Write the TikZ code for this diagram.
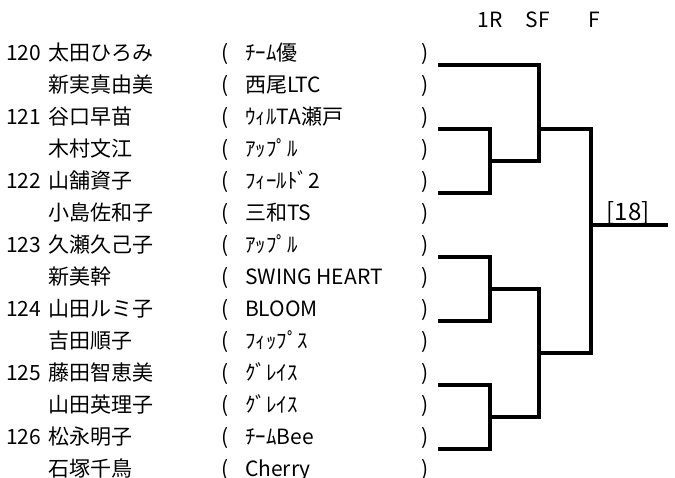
\documentclass[tikz,border=0pt]{standalone}
\usepackage{fontspec}
\setmainfont{Noto Sans CJK JP}
\usetikzlibrary{positioning}

\begin{document}
\begin{tikzpicture}[
    x=1pt, y=-1pt,
    entry/.style={anchor=base west, inner sep=0pt, font=\fontsize{21}{21}\selectfont},
    round/.style={anchor=base, inner sep=0pt, font=\fontsize{21}{21}\selectfont},
    line/.style={line width=3.3pt}
]
\useasboundingbox (0,0) rectangle (675,477);

% round headers
\node[round] (hr1) at (490,27) {1R};
\node[round] (hsf) at (538,27) {SF};
\node[round] (hf) at (594,27) {F};

% players
\node[entry] (n120) at (6,60) {120};
\node[entry] (a1) at (48,60) {太田ひろみ};
\node[entry] (o1) at (221,60) {(};
\node[entry] (t1) at (245,60) {ﾁｰﾑ優};
\node[entry] (c1) at (421,60) {)};
\node[entry] (a2) at (48,92) {新実真由美};
\node[entry] (o2) at (221,92) {(};
\node[entry] (t2) at (245,92) {西尾LTC};
\node[entry] (c2) at (421,92) {)};
\node[entry] (n121) at (6,124) {121};
\node[entry] (a3) at (48,124) {谷口早苗};
\node[entry] (o3) at (221,124) {(};
\node[entry] (t3) at (245,124) {ｳｨﾙTA瀬戸};
\node[entry] (c3) at (421,124) {)};
\node[entry] (a4) at (48,156) {木村文江};
\node[entry] (o4) at (221,156) {(};
\node[entry] (t4) at (245,156) {ｱｯﾌﾟﾙ};
\node[entry] (c4) at (421,156) {)};
\node[entry] (n122) at (6,188) {122};
\node[entry] (a5) at (48,188) {山舗資子};
\node[entry] (o5) at (221,188) {(};
\node[entry] (t5) at (245,188) {ﾌｨｰﾙﾄﾞ2};
\node[entry] (c5) at (421,188) {)};
\node[entry] (a6) at (48,220) {小島佐和子};
\node[entry] (o6) at (221,220) {(};
\node[entry] (t6) at (245,220) {三和TS};
\node[entry] (c6) at (421,220) {)};
\node[entry] (n123) at (6,252) {123};
\node[entry] (a7) at (48,252) {久瀬久己子};
\node[entry] (o7) at (221,252) {(};
\node[entry] (t7) at (245,252) {ｱｯﾌﾟﾙ};
\node[entry] (c7) at (421,252) {)};
\node[entry] (a8) at (48,284) {新美幹};
\node[entry] (o8) at (221,284) {(};
\node[entry] (t8) at (245,284) {SWING HEART};
\node[entry] (c8) at (421,284) {)};
\node[entry] (n124) at (6,316) {124};
\node[entry] (a9) at (48,316) {山田ルミ子};
\node[entry] (o9) at (221,316) {(};
\node[entry] (t9) at (245,316) {BLOOM};
\node[entry] (c9) at (421,316) {)};
\node[entry] (a10) at (48,348) {吉田順子};
\node[entry] (o10) at (221,348) {(};
\node[entry] (t10) at (245,348) {ﾌｨｯﾌﾟｽ};
\node[entry] (c10) at (421,348) {)};
\node[entry] (n125) at (6,380) {125};
\node[entry] (a11) at (48,380) {藤田智恵美};
\node[entry] (o11) at (221,380) {(};
\node[entry] (t11) at (245,380) {ｸﾞﾚｲｽ};
\node[entry] (c11) at (421,380) {)};
\node[entry] (a12) at (48,412) {山田英理子};
\node[entry] (o12) at (221,412) {(};
\node[entry] (t12) at (245,412) {ｸﾞﾚｲｽ};
\node[entry] (c12) at (421,412) {)};
\node[entry] (n126) at (6,444) {126};
\node[entry] (a13) at (48,444) {松永明子};
\node[entry] (o13) at (221,444) {(};
\node[entry] (t13) at (245,444) {ﾁｰﾑBee};
\node[entry] (c13) at (421,444) {)};
\node[entry] (a14) at (48,476) {石塚千鳥};
\node[entry] (o14) at (221,476) {(};
\node[entry] (t14) at (245,476) {Cherry};
\node[entry] (c14) at (421,476) {)};

% bracket points
\coordinate (p120) at (438,65);
\coordinate (p121) at (438,129);
\coordinate (p122) at (438,193);
\coordinate (p123) at (438,257);
\coordinate (p124) at (438,321);
\coordinate (p125) at (438,385);
\coordinate (p126) at (438,449);
\coordinate (q1) at (490,161);
\coordinate (q2) at (490,289);
\coordinate (q3) at (490,417);
\coordinate (s1) at (539,129);
\coordinate (s2) at (539,353);
\coordinate (fin) at (591,225);
\coordinate (win) at (668,225);

\draw[line] (p121) -| (q1) |- (p122);
\draw[line] (p123) -| (q2) |- (p124);
\draw[line] (p125) -| (q3) |- (p126);
\draw[line] (p120) -| (s1) |- (q1);
\draw[line] (q2) -| (s2) |- (q3);
\draw[line] (s1) -| (fin) |- (s2);
\draw[line] (fin) -- (win);

\node[anchor=base, inner sep=0pt, font=\fontsize{24}{24}\selectfont] (score) at (628,220) {[18]};

\end{tikzpicture}
\end{document}
